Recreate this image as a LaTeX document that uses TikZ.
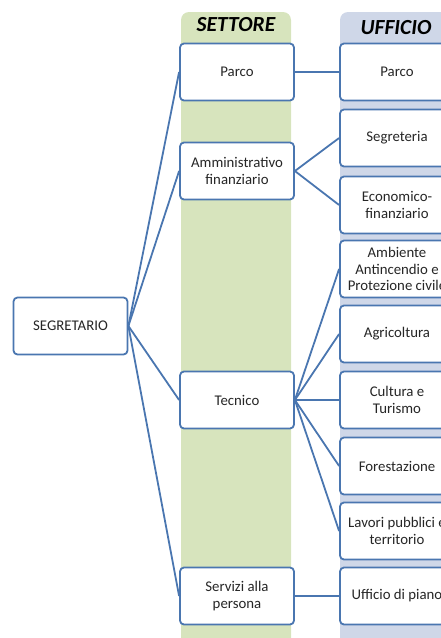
\documentclass[tikz,border=0pt]{standalone}
\usepackage{fontspec}
\setmainfont{Carlito}
\definecolor{boxline}{HTML}{4A76B0}
\definecolor{settcol}{HTML}{D7E4BD}
\definecolor{uffcol}{HTML}{CFD7E8}
\tikzset{
  unit/.style={draw=boxline, line width=1.8pt, fill=white, rounded corners=4pt,
    minimum width=114pt, minimum height=57pt, align=center, inner sep=1pt,
    font=\fontsize{14.8}{16.5}\selectfont, text=black!85},
  head/.style={font=\fontsize{21.5}{23}\selectfont\bfseries\itshape},
  link/.style={draw=boxline, line width=1.8pt}
}
\begin{document}
\begin{tikzpicture}[x=1pt,y=-1pt]
      \useasboundingbox (0,0) rectangle (441,638);
      \clip (0,0) rectangle (441,638);
      % columns
      \fill[settcol, rounded corners=8pt] (181,12) rectangle (291,660);
      \fill[uffcol, rounded corners=8pt] (340,12) rectangle (520,660);
      \node[head] (settore) at (236,25) {SETTORE};
      \node[head] (ufficio) at (396,28) {UFFICIO};
      % boxes
      \node[unit] (segretario) at (70.5,326) {SEGRETARIO};
      \node[unit] (parco) at (237,72) {Parco};
      \node[unit] (ammfin) at (237,171) {Amministrativo\\finanziario};
      \node[unit] (tecnico) at (237,400) {Tecnico};
      \node[unit] (servizi) at (237,596) {Servizi alla\\persona};
      \node[unit] (uparco) at (397,72) {Parco};
      \node[unit] (segreteria) at (397,138) {Segreteria};
      \node[unit] (economico) at (397,205) {Economico-\\finanziario};
      \node[unit] (ambiente) at (397,269) {Ambiente\\Antincendio e\\Protezione civile};
      \node[unit] (agricoltura) at (397,334) {Agricoltura};
      \node[unit] (cultura) at (397,400) {Cultura e\\Turismo};
      \node[unit] (forestazione) at (397,466) {Forestazione};
      \node[unit] (lavori) at (397,531) {Lavori pubblici e\\territorio};
      \node[unit] (piano) at (397,596) {Ufficio di piano};
      \begin{scope}[link]
        \draw (segretario.east) to (parco.west);
        \draw (segretario.east) to (ammfin.west);
        \draw (segretario.east) to (tecnico.west);
        \draw (segretario.east) to (servizi.west);
        \draw (parco.east) to (uparco.west);
        \draw (ammfin.east) to (segreteria.west);
        \draw (ammfin.east) to (economico.west);
        \draw (tecnico.east) to (ambiente.west);
        \draw (tecnico.east) to (agricoltura.west);
        \draw (tecnico.east) to (cultura.west);
        \draw (tecnico.east) to (forestazione.west);
        \draw (tecnico.east) to (lavori.west);
        \draw (servizi.east) to (piano.west);
      \end{scope}
    \end{tikzpicture}
\end{document}
